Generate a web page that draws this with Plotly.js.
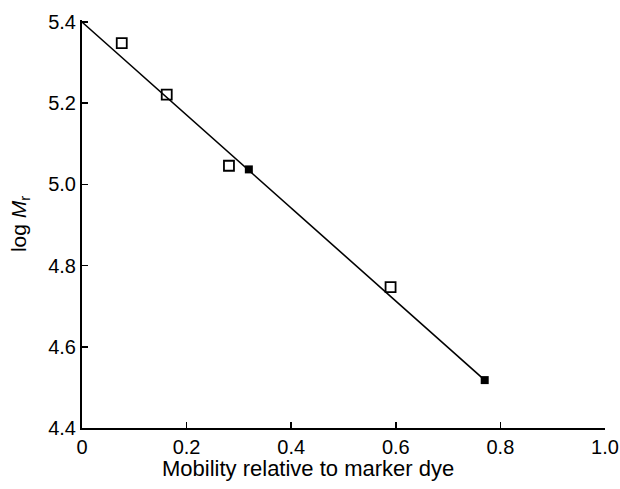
<!DOCTYPE html>
<html>
<head>
<meta charset="utf-8">
<script src="https://cdn.plot.ly/plotly-3.0.1.min.js"></script>
<style>html,body{margin:0;padding:0;background:#fff;}#chart{width:620px;height:489px;}</style>
</head>
<body>
<div id="chart"></div>
<script>
// Open squares (standard proteins)
const openX = [0.076, 0.162, 0.281, 0.59];
const openY = [5.348, 5.221, 5.046, 4.747];
// Filled squares
const filledX = [0.319, 0.77];
const filledY = [5.037, 4.518];
// Fitted line end points
const fitX = [0, 0.77];
const fitY = [5.40, 4.518];
const xTicks = [0, 0.2, 0.4, 0.6, 0.8, 1.0];
const xTickText = ['0', '0.2', '0.4', '0.6', '0.8', '1.0'];
const yTicks = [4.4, 4.6, 4.8, 5.0, 5.2, 5.4];
const yTickText = ['4.4', '4.6', '4.8', '5.0', '5.2', '5.4'];

const font = 'Liberation Sans, Arial, Helvetica, sans-serif';
const traces = [
  {x: fitX, y: fitY, mode: 'lines', line: {color: '#000', width: 1.6}, hoverinfo: 'skip'},
  {x: openX, y: openY, mode: 'markers',
   marker: {symbol: 'square-open', size: 10, color: '#000', line: {width: 1.8, color: '#000'}}},
  {x: filledX, y: filledY, mode: 'markers',
   marker: {symbol: 'square', size: 8, color: '#000'}}
];
const layout = {
  width: 620, height: 489,
  margin: {l: 82, r: 15, t: 20, b: 61},
  showlegend: false,
  paper_bgcolor: '#fff', plot_bgcolor: '#fff',
  font: {family: font, color: '#000', size: 20},
  xaxis: {
    range: [0, 1.0], tickvals: xTicks, ticktext: xTickText,
    showgrid: false, zeroline: false, showline: true, linecolor: '#000', linewidth: 2,
    ticks: 'inside', ticklen: 6, tickwidth: 1.5, tickcolor: '#000',
    tickfont: {size: 20, family: font}
  },
  yaxis: {
    range: [4.4, 5.405], tickvals: yTicks, ticktext: yTickText,
    showgrid: false, zeroline: false, showline: true, linecolor: '#000', linewidth: 2,
    ticks: 'inside', ticklen: 6, tickwidth: 1.5, tickcolor: '#000',
    tickfont: {size: 20, family: font},
    title: {text: 'log <i>M</i><sub>r</sub>', font: {size: 21, family: font}, standoff: 16}
  },
  annotations: [{
    xref: 'paper', yref: 'paper', x: (308 - 82) / 523, y: 0, yshift: -26,
    xanchor: 'center', yanchor: 'top', showarrow: false,
    text: 'Mobility relative to marker dye', font: {size: 22, family: font}
  }]
};
Plotly.newPlot('chart', traces, layout, {displayModeBar: false, staticPlot: true});
</script>
</body>
</html>
